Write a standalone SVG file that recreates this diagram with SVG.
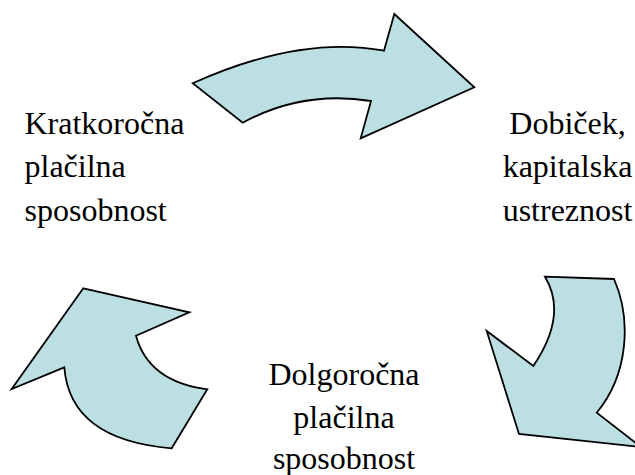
<svg xmlns="http://www.w3.org/2000/svg" width="635" height="475" viewBox="0 0 635 475">
<style>
.arr{fill:#bbdfe2;stroke:#000;stroke-width:1.8;stroke-linejoin:miter}
</style>
<rect width="635" height="475" fill="#fff"/>
<g id="connectors">
<path class="arr" d="M192.7,83.3 Q300,35 384,50.7 L394.3,14 L474.3,87.3 L360.7,138.3 L371,101 Q303,90 242.7,122.7 Z"/>
<path class="arr" d="M545,276.7 L614,279 C632,320 628,375 596.7,412.7 L641,447 L519,434 L486.7,331 L533.3,366 Q568,315 545,276.7 Z"/>
<path class="arr" d="M83.3,288.3 L189.3,312.3 L136,335.7 Q148.4,381.5 207.3,389.3 L171.7,448.3 Q70,440 64.3,367.3 L11.7,389 Z"/>
</g>
<g id="labels" font-family="Liberation Serif, DejaVu Serif, serif" font-size="32" fill="#000">
<g id="node-kratkorocna">
<text x="24.5" y="133.5">Kratkoročna</text>
<text x="24.5" y="177">plačilna</text>
<text x="24.5" y="221">sposobnost</text>
</g>
<g id="node-dobicek" text-anchor="middle">
<text x="567.5" y="133.5">Dobiček,</text>
<text x="567.5" y="177">kapitalska</text>
<text x="567.5" y="220.5">ustreznost</text>
</g>
<g id="node-dolgorocna" text-anchor="middle">
<text x="344" y="384.5">Dolgoročna</text>
<text x="344" y="427.5">plačilna</text>
<text x="344" y="468.5">sposobnost</text>
</g>
</g>
</svg>
